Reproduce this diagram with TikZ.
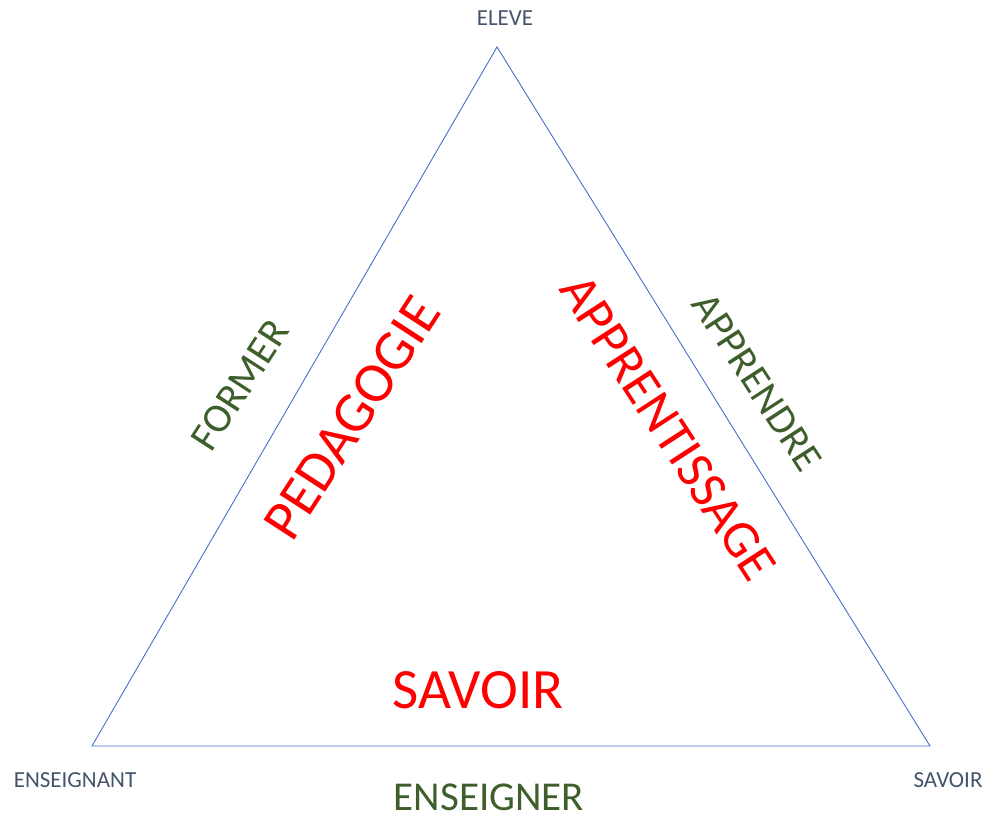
\documentclass[tikz,border=0pt]{standalone}
\usepackage{fontspec}
\setmainfont{Carlito}
\usetikzlibrary{positioning}
\definecolor{edgeblue}{HTML}{4472C4}
\definecolor{vertexink}{HTML}{44546A}
\definecolor{verbgreen}{HTML}{3E5F2B}
\definecolor{notionred}{HTML}{FF0000}

\begin{document}
\begin{tikzpicture}[
  x=1pt, y=1pt,
  side/.style={draw=edgeblue, line width=0.9pt},
  vertex/.style={text=vertexink, font=\fontsize{23}{26}\selectfont, inner sep=0pt},
  verb/.style={text=verbgreen, font=\fontsize{41}{44}\selectfont, inner sep=0pt},
  notion/.style={text=notionred, font=\fontsize{57}{60}\selectfont, inner sep=0pt}
]
  \useasboundingbox (0,0) rectangle (993,817);

  % corners of the triangle
  \coordinate (apex) at (497,770);
  \coordinate (teacher) at (92,71);
  \coordinate (knowledge) at (930,71);
  \draw[side] (apex) -- (knowledge) -- (teacher) -- cycle;

  % pole names
  \node[vertex] (eleve) at (505,799) {ELEVE};
  \node[vertex] (enseignant) at (75,37) {ENSEIGNANT};
  \node[vertex] (savoir) at (948,37) {SAVOIR};

  % verbs outside the sides
  \node[verb, rotate=57] (former) at (240,432) {FORMER};
  \node[verb, rotate=-57] (apprendre) at (757,435) {APPRENDRE};
  \node[verb] (enseigner) at (489,20) {ENSEIGNER};

  % processes inside
  \node[notion, rotate=57] (pedagogie) at (352,399) {PEDAGOGIE};
  \node[notion, rotate=-57, font=\fontsize{53}{56}\selectfont] (apprentissage) at (668,389) {APPRENTISSAGE};
  \node[notion] (savoirin) at (478,127) {SAVOIR};
\end{tikzpicture}
\end{document}
